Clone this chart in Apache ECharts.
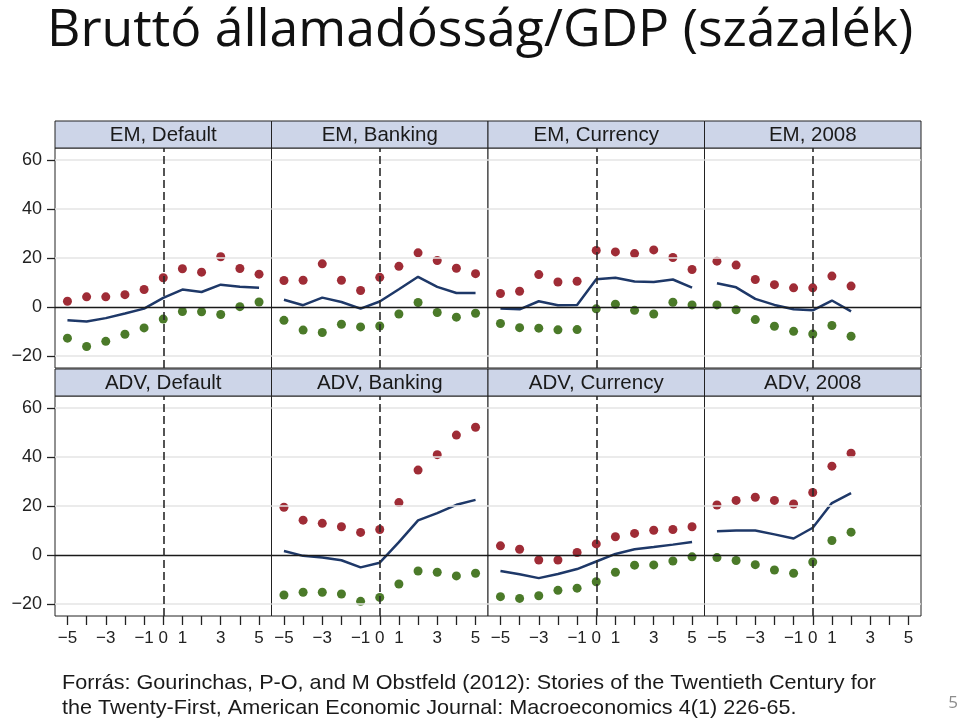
<!DOCTYPE html>
<html><head><meta charset="utf-8">
<script src="https://cdn.jsdelivr.net/npm/echarts@6/dist/echarts.min.js"></script>
<style>html,body{margin:0;padding:0;background:#fff}#c{width:960px;height:722px}</style>
</head><body><div id="c"></div>
<script>
// ---- data ----
const years = [-5,-4,-3,-2,-1,0,1,2,3,4,5];
const xLabelValues = [-5,-3,-1,0,1,3,5];
const yTickValues = [-20,0,20,40,60];
const yGridValues = [-20,20,40,60];
const panelTitles = ['EM, Default','EM, Banking','EM, Currency','EM, 2008','ADV, Default','ADV, Banking','ADV, Currency','ADV, 2008'];

const emDefaultHigh = [2.3,4.1,4.1,5.0,7.1,11.9,15.6,14.2,20.5,15.7,13.4];
const emDefaultMean = [-5.5,-6.0,-4.6,-2.7,-0.7,3.7,7.1,6.1,9.1,8.2,7.8];
const emDefaultLow  = [-12.8,-16.2,-14.1,-11.2,-8.6,-5.0,-1.9,-2.0,-3.1,0.1,2.0];

const emBankingHigh = [10.8,10.9,17.6,10.9,6.7,12.1,16.6,22.1,19.0,15.8,13.6];
const emBankingMean = [2.9,0.7,3.8,2.0,-0.7,2.2,7.2,12.3,8.2,5.7,5.7];
const emBankingLow  = [-5.5,-9.5,-10.5,-7.1,-8.2,-7.8,-2.9,1.8,-2.3,-4.2,-2.6];

const emCurrencyHigh = [5.5,6.4,13.2,10.2,10.5,23.1,22.5,21.8,23.3,20.2,15.3];
const emCurrencyMean = [-0.7,-1.0,2.3,0.7,0.8,11.3,11.9,10.4,10.2,11.2,7.9];
const emCurrencyLow  = [-6.8,-8.5,-8.7,-9.4,-9.3,-0.8,1.1,-1.4,-2.9,1.9,0.8];

const em2008High = [18.7,17.1,11.2,9.1,7.8,7.8,12.6,8.5,null,null,null];
const em2008Mean = [9.7,8.0,3.3,0.8,-1.0,-1.4,2.6,-1.8,null,null,null];
const em2008Low  = [0.8,-1.2,-5.2,-7.9,-10.0,-11.1,-7.6,-12.0,null,null,null];

const advDefaultHigh = [null,null,null,null,null,null,null,null,null,null,null];
const advDefaultMean = [null,null,null,null,null,null,null,null,null,null,null];
const advDefaultLow  = [null,null,null,null,null,null,null,null,null,null,null];

const advBankingHigh = [19.5,14.2,12.9,11.5,9.2,10.4,21.4,34.7,41.0,49.0,52.2];
const advBankingMean = [1.6,-0.4,-1.1,-2.2,-5.1,-3.2,5.2,14.1,17.1,20.5,22.5];
const advBankingLow  = [-16.4,-15.3,-15.3,-16.0,-19.0,-17.4,-11.9,-6.6,-7.1,-8.6,-7.5];

const advCurrencyHigh = [3.7,2.3,-2.1,-2.1,1.0,4.5,7.4,8.8,10.1,10.4,11.5];
const advCurrencyMean = [-6.6,-7.9,-9.5,-7.8,-5.8,-2.7,0.4,2.3,3.2,4.2,5.3];
const advCurrencyLow  = [-17.1,-17.8,-16.7,-14.5,-13.6,-11.0,-7.1,-4.2,-4.1,-2.5,-0.8];

const adv2008High = [20.4,22.3,23.6,22.3,20.8,25.5,36.3,41.6,null,null,null];
const adv2008Mean = [9.7,10.0,10.0,8.4,6.7,11.1,21.2,25.3,null,null,null];
const adv2008Low  = [-1.1,-2.3,-4.0,-6.2,-7.5,-2.9,5.9,9.3,null,null,null];

const titleText = 'Bruttó államadósság/GDP (százalék)';
const sourceLine1 = 'Forrás: Gourinchas, P-O, and M Obstfeld (2012): Stories of the Twentieth Century for';
const sourceLine2 = 'the Twenty-First, American Economic Journal: Macroeconomics 4(1) 226-65.';
const pageNumber = '5';

// ---- build ----
const panels = [
  [emDefaultHigh, emDefaultMean, emDefaultLow],
  [emBankingHigh, emBankingMean, emBankingLow],
  [emCurrencyHigh, emCurrencyMean, emCurrencyLow],
  [em2008High, em2008Mean, em2008Low],
  [advDefaultHigh, advDefaultMean, advDefaultLow],
  [advBankingHigh, advBankingMean, advBankingLow],
  [advCurrencyHigh, advCurrencyMean, advCurrencyLow],
  [adv2008High, adv2008Mean, adv2008Low]
];
const RED = '#9f2c36', GREEN = '#4b7a29', NAVY = '#1e3868';
const W = 216.5, H = 220;
const colLeft = c => 55 + c * W;
const rowTop = [148, 396];
const headTop = [121, 369];
const minus = v => (v < 0 ? '\u2212' + Math.abs(v) : String(v));
const pairs = arr => years.map((y, i) => [y, arr[i]]).filter(p => p[1] !== null);
const axisFont = 'Liberation Sans, Arial, sans-serif';

const grid = [], xAxis = [], yAxis = [], series = [], graphic = [];
panels.forEach((p, i) => {
  const row = Math.floor(i / 4), col = i % 4;
  grid.push({left: colLeft(col), top: rowTop[row], width: W, height: H,
    show: true, borderColor: '#222', borderWidth: 1, backgroundColor: '#fff'});
  xAxis.push({gridIndex: i, type: 'value', min: -5.65, max: 5.65, position: 'bottom',
    axisLine: {show: false, onZero: false}, splitLine: {show: false},
    axisTick: {show: row === 1, customValues: years, length: 9, lineStyle: {color: '#222', width: 1.3}},
    axisLabel: {show: row === 1, customValues: xLabelValues, formatter: minus,
      fontSize: 17, color: '#222', margin: 14, fontFamily: axisFont}});
  yAxis.push({gridIndex: i, type: 'value', min: -25, max: 65, position: 'left',
    axisLine: {show: false, onZero: false}, splitLine: {show: false},
    axisTick: {show: col === 0, customValues: yTickValues, length: 8, lineStyle: {color: '#222', width: 1.3}},
    axisLabel: {show: col === 0, customValues: yTickValues, formatter: minus,
      fontSize: 18, color: '#222', margin: 13, fontFamily: axisFont}});
  series.push({type: 'line', xAxisIndex: i, yAxisIndex: i, data: [], z: 1, silent: true,
    markLine: {silent: true, symbol: 'none', animation: false, label: {show: false},
      lineStyle: {color: '#e4e4e4', width: 1.5, type: 'solid'},
      data: yGridValues.map(v => ({yAxis: v})).concat([
        {yAxis: 0, lineStyle: {color: '#1a1a1a', width: 1.3, type: 'solid'}},
        {xAxis: 0, lineStyle: {color: '#2a2a2a', width: 1.6, type: [8, 4]}}
      ])}});
  series.push({type: 'scatter', xAxisIndex: i, yAxisIndex: i, data: pairs(p[0]), symbolSize: 9,
    itemStyle: {color: RED, opacity: 1}, z: 3, animation: false});
  series.push({type: 'scatter', xAxisIndex: i, yAxisIndex: i, data: pairs(p[2]), symbolSize: 9,
    itemStyle: {color: GREEN, opacity: 1}, z: 3, animation: false});
  series.push({type: 'line', xAxisIndex: i, yAxisIndex: i, data: pairs(p[1]), showSymbol: false,
    lineStyle: {color: NAVY, width: 2.5}, z: 4, animation: false});
  graphic.push({type: 'rect', shape: {x: colLeft(col), y: headTop[row], width: W, height: 27},
    style: {fill: '#cdd5e8', stroke: '#222', lineWidth: 1}, z: 10});
  graphic.push({type: 'text', x: colLeft(col) + W / 2, y: headTop[row] + 14,
    style: {text: panelTitles[i], font: '20.5px "Liberation Sans", Arial, sans-serif',
      fill: '#1a1a1a', textAlign: 'center', textVerticalAlign: 'middle'}, z: 11});
});

graphic.push({type: 'text', x: 47, y: 31, scaleX: 0.995,
  style: {text: titleText, font: '52px "Open Sans", sans-serif', fill: '#111',
    textAlign: 'left', textVerticalAlign: 'middle'}, z: 11});
graphic.push({type: 'text', x: 62, y: 683, scaleX: 1.03,
  style: {text: sourceLine1, font: '21px "Liberation Sans", Arial, sans-serif', fill: '#1a1a1a',
    textAlign: 'left', textVerticalAlign: 'middle'}, z: 11});
graphic.push({type: 'text', x: 62, y: 708, scaleX: 1.03,
  style: {text: sourceLine2, font: '21px "Liberation Sans", Arial, sans-serif', fill: '#1a1a1a',
    textAlign: 'left', textVerticalAlign: 'middle'}, z: 11});
graphic.push({type: 'text', x: 953, y: 703,
  style: {text: pageNumber, font: '17px "Open Sans", sans-serif', fill: '#8c8c8c',
    textAlign: 'center', textVerticalAlign: 'middle'}, z: 11});

const chart = echarts.init(document.getElementById('c'), null, {renderer: 'canvas'});
chart.setOption({animation: false, backgroundColor: '#fff', grid, xAxis, yAxis, series, graphic});
</script></body></html>
